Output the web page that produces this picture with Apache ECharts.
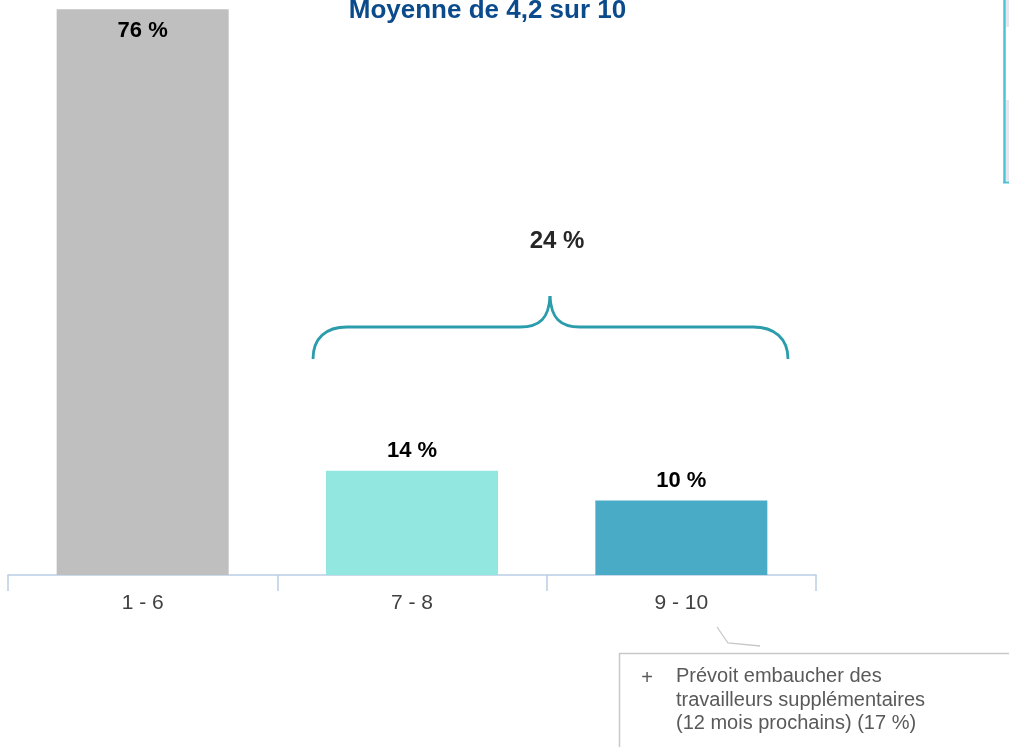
<!DOCTYPE html>
<html>
<head>
<meta charset="utf-8">
<script src="https://cdn.jsdelivr.net/npm/echarts@6/dist/echarts.min.js"></script>
<style>
  html, body { margin: 0; padding: 0; background: #fff; }
  #chart { width: 1009px; height: 747px; }
</style>
</head>
<body>
<div id="chart"></div>
<script>
const categories = ['1 - 6', '7 - 8', '9 - 10'];
const values = [76, 14, 10];
const titleText = 'Moyenne de 4,2 sur 10';
const noteLines = ['Prévoit embaucher des', 'travailleurs supplémentaires', '(12 mois prochains) (17 %)'];

const barColors = ['#bfbfbf', '#92e8e0', '#4aabc6'];
const groupTotal = values[1] + values[2];

const chart = echarts.init(document.getElementById('chart'), null, { renderer: 'canvas' });
const font = 'Arial, "Liberation Sans", sans-serif';
const braceStyle = { fill: 'none', stroke: '#2a9cab', lineWidth: 2.8 };

chart.setOption({
  animation: false,
  backgroundColor: '#ffffff',
  grid: { left: 8, right: 193, top: 9.3, bottom: 172, containLabel: false },
  xAxis: {
    type: 'category',
    data: categories,
    boundaryGap: true,
    axisLine: { show: true, lineStyle: { color: '#b9cde5', width: 1.5 } },
    axisTick: { show: true, length: 16, lineStyle: { color: '#b9cde5', width: 1.5 } },
    axisLabel: { color: '#404040', fontSize: 21, fontFamily: font, margin: 18 }
  },
  yAxis: {
    type: 'value', min: 0, max: 76, show: false,
    splitLine: { show: false }
  },
  series: [{
    type: 'bar',
    barWidth: 172,
    data: values.map((v, i) => ({
      value: v,
      itemStyle: { color: barColors[i] },
      label: i === 0
        ? { position: 'insideTop', distance: 11 }
        : { position: 'top', distance: 9 }
    })),
    label: {
      show: true,
      formatter: p => p.value + ' %',
      color: '#000000',
      fontWeight: 'bold',
      fontSize: 22,
      fontFamily: font
    }
  }],
  graphic: [
    { type: 'text', x: 487.5, y: 10.5,
      style: { text: titleText, font: 'bold 26px ' + font, fill: '#0b4a8b', textAlign: 'center', textVerticalAlign: 'middle' } },
    { type: 'text', x: 557, y: 241,
      style: { text: groupTotal + ' %', font: 'bold 24px ' + font, fill: '#262626', textAlign: 'center', textVerticalAlign: 'middle' } },
    // brace
    { type: 'bezierCurve', shape: { x1: 313, y1: 359, cpx1: 313, cpy1: 338, cpx2: 326, cpy2: 327, x2: 347, y2: 327 }, style: braceStyle },
    { type: 'line', shape: { x1: 347, y1: 327, x2: 520, y2: 327 }, style: braceStyle },
    { type: 'bezierCurve', shape: { x1: 520, y1: 327, cpx1: 540, cpy1: 327, cpx2: 549, cpy2: 318, x2: 550, y2: 296 }, style: braceStyle },
    { type: 'bezierCurve', shape: { x1: 550, y1: 296, cpx1: 551, cpy1: 318, cpx2: 560, cpy2: 327, x2: 580, y2: 327 }, style: braceStyle },
    { type: 'line', shape: { x1: 580, y1: 327, x2: 753, y2: 327 }, style: braceStyle },
    { type: 'bezierCurve', shape: { x1: 753, y1: 327, cpx1: 774, cpy1: 327, cpx2: 788, cpy2: 338, x2: 788, y2: 359 }, style: braceStyle },
    // right-edge panel
    { type: 'rect', shape: { x: 1006, y: 0, width: 3, height: 27 }, style: { fill: '#e6e6ef' } },
    { type: 'rect', shape: { x: 1006, y: 100, width: 3, height: 81 }, style: { fill: '#e6e6ef' } },
    { type: 'line', shape: { x1: 1004.5, y1: 0, x2: 1004.5, y2: 183 }, style: { stroke: '#4cc3d3', lineWidth: 2.5 } },
    { type: 'line', shape: { x1: 1003, y1: 182.5, x2: 1009, y2: 182.5 }, style: { stroke: '#4cc3d3', lineWidth: 2 } },
    // callout
    { type: 'polyline', shape: { points: [[717, 627], [728, 643], [760, 646]] }, style: { fill: 'none', stroke: '#c8c8c8', lineWidth: 1.3 } },
    { type: 'rect', shape: { x: 619.5, y: 653.5, width: 420, height: 120 }, style: { fill: '#ffffff', stroke: '#c8c8c8', lineWidth: 1.5 } },
    { type: 'text', x: 647, y: 678,
      style: { text: '+', font: '20px ' + font, fill: '#595959', textAlign: 'center', textVerticalAlign: 'middle' } },
    { type: 'text', x: 676, y: 665,
      style: { text: noteLines.join('\n'), font: '20px ' + font, lineHeight: 23.5, fill: '#595959', textAlign: 'left', textVerticalAlign: 'top' } }
  ]
});
</script>
</body>
</html>
